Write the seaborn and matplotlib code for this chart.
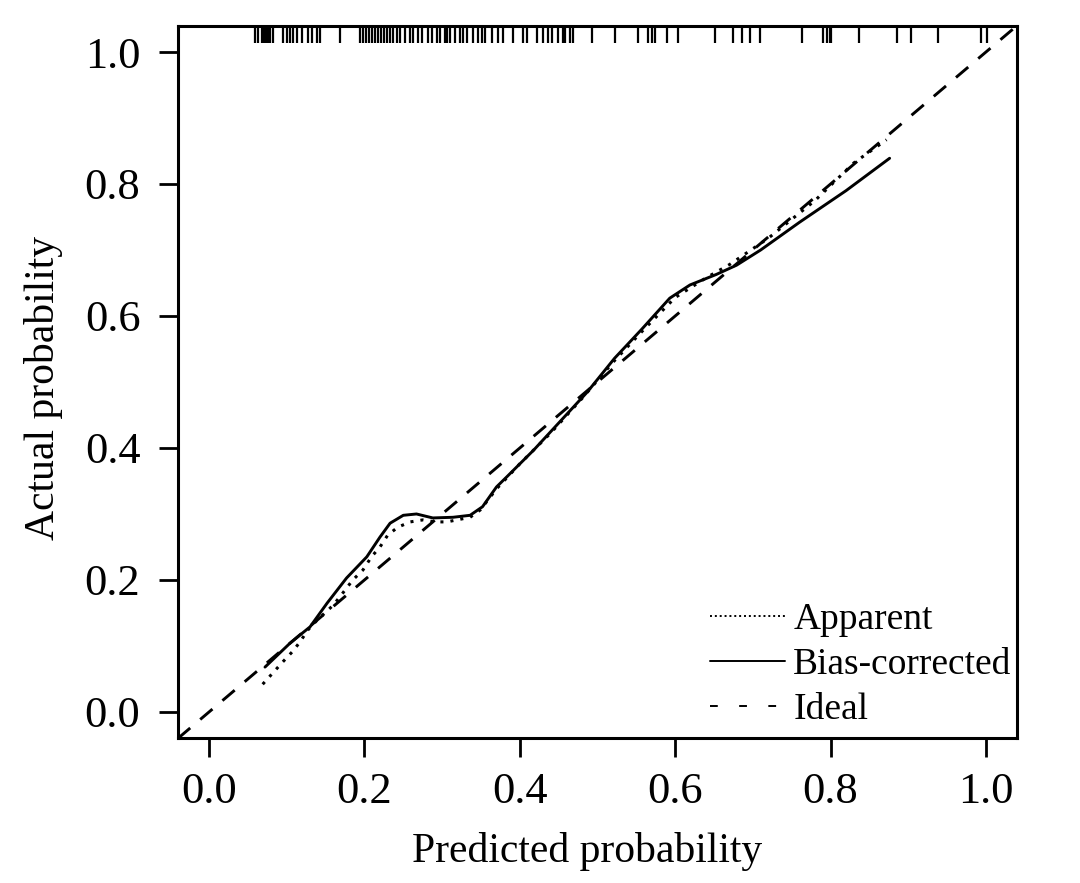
import matplotlib
matplotlib.use("Agg")
import matplotlib.pyplot as plt
from matplotlib.lines import Line2D
import seaborn as sns
import numpy as np

# ---- data ----
rug_x = [0.059, 0.063, 0.068, 0.071, 0.073, 0.076, 0.078, 0.082, 0.095, 0.100, 0.104, 0.108,
         0.113, 0.120, 0.127, 0.132, 0.139, 0.143, 0.168, 0.194, 0.198, 0.202, 0.206, 0.210,
         0.214, 0.217, 0.221, 0.225, 0.229, 0.233, 0.237, 0.242, 0.246, 0.252, 0.259, 0.262,
         0.269, 0.274, 0.282, 0.287, 0.293, 0.297, 0.304, 0.306, 0.310, 0.316, 0.323, 0.327,
         0.332, 0.340, 0.346, 0.351, 0.355, 0.364, 0.372, 0.378, 0.391, 0.404, 0.409, 0.422,
         0.430, 0.436, 0.441, 0.449, 0.455, 0.458, 0.464, 0.468, 0.493, 0.522, 0.552, 0.565,
         0.570, 0.574, 0.589, 0.603, 0.651, 0.674, 0.686, 0.696, 0.709, 0.763, 0.790, 0.795,
         0.799, 0.801, 0.837, 0.885, 0.904, 0.938, 0.994, 1.001]

bias_x = [0.072, 0.104, 0.130, 0.152, 0.177, 0.203, 0.220, 0.233, 0.250, 0.267, 0.288, 0.314,
          0.336, 0.352, 0.370, 0.383, 0.418, 0.458, 0.487, 0.522, 0.557, 0.593, 0.619, 0.653,
          0.679, 0.710, 0.760, 0.820, 0.876]
bias_y = [0.068, 0.104, 0.129, 0.165, 0.203, 0.235, 0.265, 0.286, 0.298, 0.300, 0.294, 0.295,
          0.298, 0.311, 0.341, 0.356, 0.397, 0.448, 0.485, 0.536, 0.580, 0.627, 0.647, 0.663,
          0.677, 0.700, 0.742, 0.790, 0.839]

app_x = [0.069, 0.082, 0.095, 0.107, 0.117, 0.127, 0.139, 0.160, 0.172, 0.185, 0.198, 0.209,
         0.220, 0.230, 0.243, 0.259, 0.275, 0.291, 0.306, 0.319, 0.336, 0.349, 0.370, 0.400,
         0.440, 0.480, 0.520, 0.560, 0.600, 0.640, 0.670, 0.720, 0.780, 0.830, 0.872]
app_y = [0.042, 0.059, 0.076, 0.091, 0.106, 0.124, 0.139, 0.162, 0.180, 0.200, 0.215, 0.235,
         0.250, 0.268, 0.280, 0.288, 0.291, 0.288, 0.288, 0.291, 0.295, 0.306, 0.338, 0.376,
         0.423, 0.475, 0.530, 0.580, 0.628, 0.658, 0.678, 0.718, 0.775, 0.832, 0.867]

ideal_x = [-0.04, 1.04]
ideal_y = [-0.04, 1.04]

ticks = [0.0, 0.2, 0.4, 0.6, 0.8, 1.0]
tick_labels = ["0.0", "0.2", "0.4", "0.6", "0.8", "1.0"]
legend_labels = ["Apparent", "Bias-corrected", "Ideal"]

# ---- style ----
sns.set_theme(style="white")
plt.rcParams['font.family'] = ['Liberation Serif', 'DejaVu Serif']

fig = plt.figure(figsize=(10.8, 8.83), dpi=100)
ax = fig.add_axes([0.1648, 0.1638, 0.7769, 0.8072])

LW = 2.1
sns.lineplot(x=ideal_x, y=ideal_y, ax=ax, color="black", lw=LW,
             linestyle=(0, (5.5, 4.5)), estimator=None, sort=False)
sns.lineplot(x=app_x, y=app_y, ax=ax, color="black", lw=2.2,
             linestyle=(0, (1, 2.3)), estimator=None, sort=False)
sns.lineplot(x=bias_x, y=bias_y, ax=ax, color="black", lw=LW,
             linestyle="-", estimator=None, sort=False)

# rug along the top
ax.vlines(rug_x, 1.0, 0.975, transform=ax.get_xaxis_transform(),
          color="black", lw=1.6)

ax.set_xlim(-0.04, 1.04)
ax.set_ylim(-0.04, 1.04)
ax.set_xticks(ticks)
ax.set_xticklabels(tick_labels)
ax.set_yticks(ticks)
ax.set_yticklabels(tick_labels)
ax.tick_params(axis="both", which="major", direction="out", length=14, width=2.0,
               color="black", labelsize=32, labelcolor="black", bottom=True, left=True)
ax.tick_params(axis="x", pad=10)
ax.tick_params(axis="y", pad=13)

for sp in ax.spines.values():
    sp.set_visible(True)
    sp.set_color("black")
    sp.set_linewidth(2.2)

ax.set_xlabel("Predicted probability", fontsize=30, color="black")
ax.set_ylabel("Actual probability", fontsize=30, color="black")
ax.xaxis.set_label_coords(0.488, -0.159)
ax.xaxis.label.set_va("center")
ax.yaxis.set_label_coords(-0.160, 0.492)
ax.yaxis.label.set_va("center")

handles = [
    Line2D([], [], color="black", lw=1.4, linestyle=(0, (1, 1.5))),
    Line2D([], [], color="black", lw=1.4, linestyle="-"),
    Line2D([], [], color="black", lw=1.4, linestyle=(0, (4, 11))),
]
ax.legend(handles, legend_labels, loc="upper left", bbox_to_anchor=(0.634, 0.19),
          frameon=False, fontsize=27, handlelength=2.0, handletextpad=0.22,
          labelspacing=0.28, borderpad=0, borderaxespad=0, labelcolor="black")

fig.savefig("out.png", dpi=100, facecolor="white")
